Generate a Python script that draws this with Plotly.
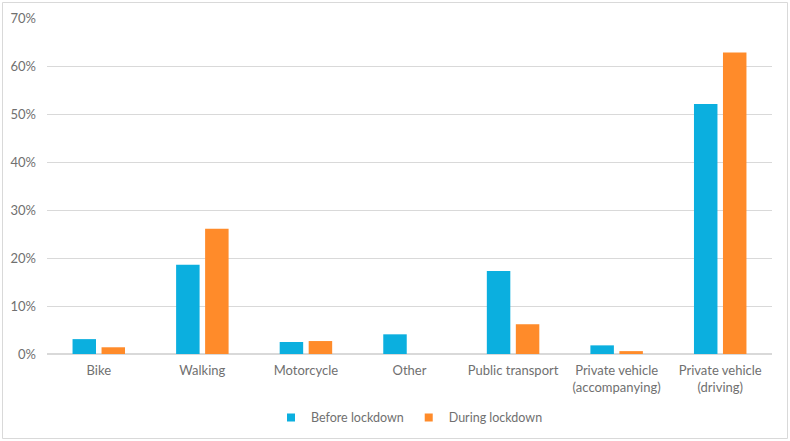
import plotly.graph_objects as go

categories = ["Bike", "Walking", "Motorcycle", "Other", "Public transport",
              "Private vehicle<br>(accompanying)", "Private vehicle<br>(driving)"]
before = [3.1, 18.6, 2.5, 4.1, 17.3, 1.8, 52.1]
during = [1.4, 26.1, 2.7, 0.0, 6.2, 0.6, 62.8]
series_names = ["Before lockdown", "During lockdown"]
series_colors = ["#0BAFDF", "#FF8B2A"]
y_ticks = [0, 10, 20, 30, 40, 50, 60, 70]
y_ticklabels = [f"{v}%" for v in y_ticks]

font_family = "Lato, 'Open Sans', sans-serif"
grey = "#707070"

fig = go.Figure()
for name, vals, col in zip(series_names, [before, during], series_colors):
    fig.add_trace(go.Bar(x=categories, y=vals, name=name, showlegend=False,
                         marker=dict(color=col, line=dict(width=0))))
# legend proxies (small square markers like the reference)
for name, col in zip(series_names, series_colors):
    fig.add_trace(go.Scatter(x=[None], y=[None], mode="markers", name=name,
                             marker=dict(symbol="square", size=8, color=col)))

fig.update_layout(
    width=790, height=441,
    margin=dict(l=47, r=18, t=18, b=87, autoexpand=False),
    paper_bgcolor="white", plot_bgcolor="white",
    barmode="group", bargap=0.44, bargroupgap=0.19,
    font=dict(family=font_family, size=13, color=grey),
    showlegend=True,
    legend=dict(orientation="h", x=0.5, xanchor="center", y=-0.19, yanchor="middle",
                font=dict(size=12.5, color=grey), itemwidth=30, tracegroupgap=0),
    xaxis=dict(showgrid=False, showline=True, linecolor="#D9D9D9", linewidth=1,
               ticks="", ticklabelstandoff=4, tickfont=dict(size=13, color=grey)),
    yaxis=dict(range=[0, 70], tickvals=y_ticks, ticktext=y_ticklabels,
               showgrid=True, gridcolor="#D9D9D9", gridwidth=1,
               zeroline=True, zerolinecolor="#D9D9D9", showline=False,
               ticks="", ticklabelstandoff=10, tickfont=dict(size=13, color=grey)),
    shapes=[dict(type="rect", xref="paper", yref="paper",
                 x0=(2.5 - 47) / 725, x1=(787.5 - 47) / 725,
                 y0=(354 - 438.5) / 336, y1=(354 - 2.5) / 336,
                 line=dict(color="#D9D9D9", width=1), fillcolor="rgba(0,0,0,0)",
                 layer="below")],
)

fig.write_html("out.html", config={"displayModeBar": False},
               post_script="document.body.style.margin='0px';document.body.style.overflow='hidden';")
